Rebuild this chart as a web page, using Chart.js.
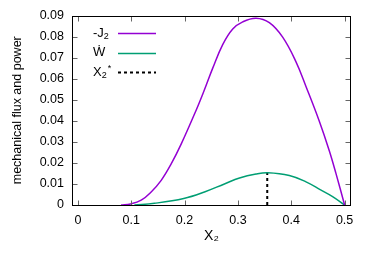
<!DOCTYPE html>
<html>
<head>
<meta charset="utf-8">
<script src="https://cdn.jsdelivr.net/npm/chart.js@4.4.0/dist/chart.umd.min.js"></script>
<style>
  html, body { margin: 0; padding: 0; background: #fff; }
  #wrap { width: 374px; height: 261px; }
</style>
</head>
<body>
<div id="wrap"><canvas id="fluxChart" width="374" height="261"></canvas></div>
<script>
// tick labels
var xTickValues = [0, 0.1, 0.2, 0.3, 0.4, 0.5];
var xTickLabels = ['0', '0.1', '0.2', '0.3', '0.4', '0.5'];
var yTickValues = [0, 0.01, 0.02, 0.03, 0.04, 0.05, 0.06, 0.07, 0.08, 0.09];
var yTickLabels = ['0', '0.01', '0.02', '0.03', '0.04', '0.05', '0.06', '0.07', '0.08', '0.09'];

// -J2 (mechanical flux)
var fluxX = [0.081, 0.0987, 0.1187, 0.1374, 0.1562, 0.1749, 0.1936, 0.2217, 0.236, 0.2528, 0.2715, 0.2903, 0.309, 0.334, 0.3589, 0.3839, 0.4089, 0.4276, 0.4526, 0.4713, 0.4839, 0.5];
var fluxY = [0, 0.0005, 0.0023, 0.0062, 0.0117, 0.0195, 0.0289, 0.0450, 0.0539, 0.0650, 0.0762, 0.0836, 0.0870, 0.0887, 0.0866, 0.0797, 0.0680, 0.0563, 0.0398, 0.0258, 0.0149, 0];

// W dot (power)
var powerX = [0.106, 0.1436, 0.1985, 0.2373, 0.2747, 0.303, 0.334, 0.356, 0.3964, 0.4277, 0.455, 0.4775, 0.5];
var powerY = [0, 0.0008, 0.0031, 0.0062, 0.0100, 0.0128, 0.0147, 0.0153, 0.0140, 0.0110, 0.0072, 0.0040, 0];

// X2* marker
var optimumX = [0.355, 0.355];
var optimumY = [0, 0.0153];

function pts(xs, ys) {
    return xs.map(function (x, i) { return { x: x, y: ys[i] }; });
}

var FONT = '"Liberation Sans", Arial, Helvetica, sans-serif';
var legendRows = [
    { main: '-J', sub: '2', sup: '',  color: '#9400d3', dash: [],     width: 1.5 },
    { main: '\u1E86', sub: '', sup: '', color: '#009e73', dash: [],   width: 1.5 },
    { main: 'X', sub: '2', sup: '*',  color: '#000000', dash: [3, 3], width: 2 }
];

// border + inward ticks on all four sides, like gnuplot
var framePlugin = {
    id: 'frame',
    afterDatasetsDraw: function (chart) {
        var ctx = chart.ctx, a = chart.chartArea;
        var sx = chart.scales.x, sy = chart.scales.y;
        var L = Math.round(a.left) + 0.5, R = Math.round(a.right) - 0.5;
        var T = Math.round(a.top) + 0.5, B = Math.round(a.bottom) + 0.5;
        ctx.save();
        ctx.lineWidth = 1;
        ctx.strokeStyle = '#666';
        ctx.beginPath();
        xTickValues.forEach(function (v) {
            var px = Math.round(sx.getPixelForValue(v)) + 0.5;
            ctx.moveTo(px, B); ctx.lineTo(px, B - 5);
            ctx.moveTo(px, T); ctx.lineTo(px, T + 5);
        });
        yTickValues.forEach(function (v) {
            var py = Math.round(sy.getPixelForValue(v)) + 0.5;
            ctx.moveTo(L, py); ctx.lineTo(L + 5, py);
            ctx.moveTo(R, py); ctx.lineTo(R - 5, py);
        });
        ctx.stroke();
        ctx.strokeStyle = '#000';
        ctx.strokeRect(L, T, R - L, B - T);
        ctx.restore();
    }
};

// key in the top-left corner
var keyPlugin = {
    id: 'key',
    afterDatasetsDraw: function (chart) {
        var ctx = chart.ctx;
        ctx.save();
        ctx.textBaseline = 'middle';
        ctx.fillStyle = '#000';
        legendRows.forEach(function (row, i) {
            var y = 33 + i * 19.5;
            var x = 93;
            ctx.font = '13px ' + FONT;
            ctx.fillText(row.main, x, y);
            x += ctx.measureText(row.main).width;
            if (row.sub) {
                ctx.font = '9px ' + FONT;
                ctx.fillText(row.sub, x, y + 4);
                x += ctx.measureText(row.sub).width;
            }
            if (row.sup) {
                ctx.font = '9px ' + FONT;
                ctx.fillText(row.sup, x + 1, y - 3);
            }
            ctx.beginPath();
            ctx.strokeStyle = row.color;
            ctx.lineWidth = row.width;
            ctx.setLineDash(row.dash);
            ctx.moveTo(118, Math.round(y) + 0.5);
            ctx.lineTo(156, Math.round(y) + 0.5);
            ctx.stroke();
            ctx.setLineDash([]);
        });
        ctx.restore();
    }
};

var ctx = document.getElementById('fluxChart').getContext('2d');
var chart = new Chart(ctx, {
    type: 'line',
    data: {
        datasets: [
            {
                label: '-J2',
                data: pts(fluxX, fluxY),
                borderColor: '#9400d3',
                borderWidth: 1.5,
                pointRadius: 0,
                fill: false,
                tension: 0.4
            },
            {
                label: 'W',
                data: pts(powerX, powerY),
                borderColor: '#009e73',
                borderWidth: 1.5,
                pointRadius: 0,
                fill: false,
                tension: 0.4
            },
            {
                label: 'X2*',
                data: pts(optimumX, optimumY),
                borderColor: '#000',
                borderWidth: 2,
                borderDash: [3, 3],
                pointRadius: 0,
                fill: false
            }
        ]
    },
    options: {
        responsive: false,
        animation: false,
        devicePixelRatio: 1,
        layout: { padding: { left: 0, top: 13, right: 23, bottom: 0 } },
        plugins: {
            legend: { display: false },
            tooltip: { enabled: false }
        },
        scales: {
            x: {
                type: 'linear',
                min: -0.011,
                max: 0.512,
                afterBuildTicks: function (s) {
                    s.ticks = xTickValues.map(function (v) { return { value: v }; });
                },
                afterFit: function (s) { s.height = 56; },
                grid: { display: false, drawTicks: false },
                border: { display: false },
                ticks: {
                    padding: 8,
                    color: '#000',
                    font: { family: FONT, size: 12.5 },
                    maxRotation: 0,
                    callback: function (v, i) { return xTickLabels[i]; }
                },
                title: {
                    display: true,
                    text: 'X\u2082',
                    color: '#000',
                    font: { family: FONT, size: 14 },
                    padding: { top: 16, bottom: 16 }
                }
            },
            y: {
                type: 'linear',
                min: 0,
                max: 0.09,
                afterBuildTicks: function (s) {
                    s.ticks = yTickValues.map(function (v) { return { value: v }; });
                },
                afterFit: function (s) { s.width = 72; },
                grid: { display: false, drawTicks: false },
                border: { display: false },
                ticks: {
                    padding: 8,
                    color: '#000',
                    font: { family: FONT, size: 12.5 },
                    callback: function (v, i) { return yTickLabels[i]; }
                },
                title: {
                    display: true,
                    text: 'mechanical flux and power',
                    color: '#000',
                    font: { family: FONT, size: 12.5 },
                    padding: { top: 10, bottom: 10 }
                }
            }
        }
    },
    plugins: [framePlugin, keyPlugin]
});
</script>
</body>
</html>
